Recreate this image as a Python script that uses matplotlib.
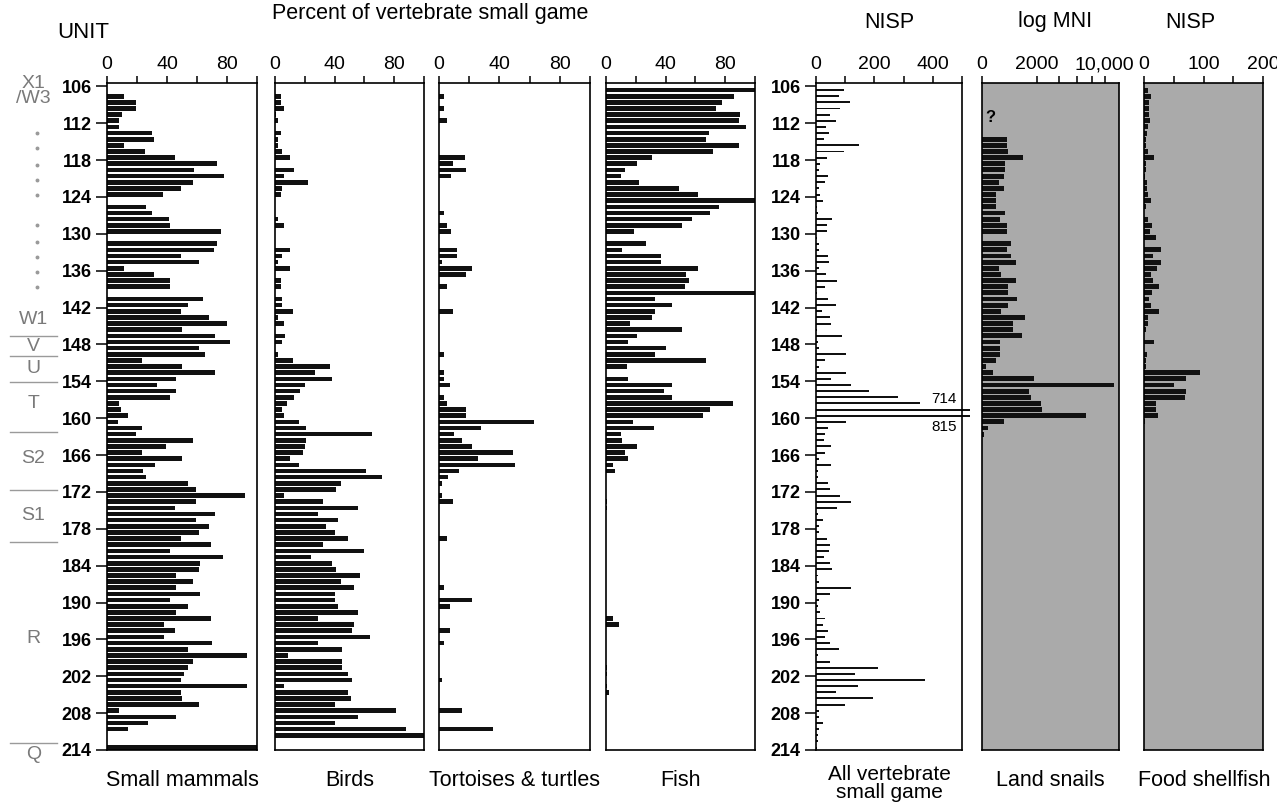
import numpy as np
import matplotlib.pyplot as plt

plt.rcParams['font.family'] = ['Liberation Sans', 'DejaVu Sans']

# depth units (one bar per unit, 106 .. 213)
depth = np.arange(106, 214)
depth_ticks = np.arange(106, 215, 6)

# percent of vertebrate small game
small_mammals = [0, 11, 19, 19, 10, 8, 8, 30, 31, 11,
                 25, 45, 73, 58, 78, 57, 49, 37, 0, 26,
                 30, 41, 42, 76, 0, 73, 71, 49, 61, 11,
                 31, 42, 42, 0, 64, 54, 49, 68, 80, 50,
                 72, 82, 61, 65, 23, 50, 72, 46, 33, 46,
                 42, 8, 9, 14, 7, 23, 19, 57, 39, 23,
                 50, 32, 24, 26, 54, 59, 92, 59, 45, 72,
                 59, 68, 61, 49, 69, 42, 77, 62, 61, 46,
                 57, 46, 62, 42, 54, 46, 69, 38, 45, 38,
                 70, 54, 93, 57, 54, 51, 49, 93, 49, 50,
                 61, 8, 46, 27, 14, 0, 0, 100]
birds = [0, 4, 4, 6, 1, 2, 0, 4, 2, 2,
         5, 10, 0, 13, 6, 22, 5, 4, 0, 0,
         0, 2, 6, 0, 0, 0, 10, 5, 2, 10,
         0, 4, 4, 0, 5, 5, 12, 2, 6, 0,
         7, 5, 0, 2, 12, 37, 27, 38, 20, 17,
         13, 8, 5, 6, 16, 21, 65, 21, 20, 19,
         10, 16, 61, 72, 44, 41, 6, 32, 56, 29,
         42, 34, 40, 49, 32, 60, 24, 38, 41, 57,
         44, 53, 40, 40, 42, 56, 29, 53, 52, 64,
         29, 45, 9, 45, 45, 49, 52, 6, 49, 51,
         40, 81, 56, 40, 88, 100, 0, 0]
tortoises = [0, 3, 0, 3, 0, 5, 0, 0, 0, 0,
             0, 17, 9, 18, 8, 0, 0, 0, 0, 0,
             3, 0, 5, 8, 0, 0, 12, 12, 2, 22,
             18, 0, 5, 0, 0, 0, 9, 0, 0, 0,
             0, 0, 0, 3, 0, 0, 3, 3, 7, 0,
             3, 5, 18, 18, 63, 28, 10, 15, 22, 49,
             26, 50, 13, 6, 2, 0, 2, 9, 0, 0,
             0, 0, 0, 5, 0, 0, 0, 0, 0, 0,
             0, 3, 0, 22, 7, 0, 0, 0, 7, 0,
             3, 0, 0, 0, 0, 0, 2, 0, 0, 0,
             0, 15, 0, 0, 36, 0, 0, 0]
fish = [100, 86, 78, 74, 90, 89, 94, 69, 67, 89,
        72, 31, 21, 13, 10, 22, 49, 62, 100, 76,
        70, 58, 51, 19, 0, 27, 11, 37, 37, 62,
        54, 56, 53, 100, 33, 44, 33, 31, 16, 51,
        21, 15, 40, 33, 67, 14, 0, 15, 44, 39,
        44, 85, 70, 65, 18, 32, 10, 11, 21, 13,
        15, 5, 6, 0, 0, 0, 0, 1, 1, 0,
        0, 0, 0, 0, 0, 0, 0, 0, 0, 0,
        0, 0, 0, 0, 0, 0, 5, 9, 0, 0,
        0, 0, 0, 0, 1, 1, 0, 1, 2, 0,
        0, 0, 0, 0, 0, 0, 0, 0]

# NISP, all vertebrate small game
nisp_all = [95, 78, 115, 83, 47, 68, 35, 46, 26, 146,
            95, 38, 15, 11, 41, 32, 9, 15, 23, 3,
            6, 55, 38, 38, 3, 11, 11, 41, 43, 9,
            35, 72, 32, 3, 41, 68, 21, 49, 53, 3,
            89, 7, 11, 104, 30, 9, 104, 53, 121, 180,
            281, 355, 714, 815, 104, 41, 32, 26, 53, 32,
            11, 53, 6, 6, 41, 47, 83, 121, 72, 6,
            23, 9, 11, 38, 47, 43, 26, 47, 55, 6,
            9, 121, 47, 11, 6, 15, 30, 23, 41, 32,
            49, 78, 6, 49, 211, 132, 374, 144, 68, 194,
            100, 9, 9, 23, 11, 6, 6, 3]

# land snails (MNI) and food shellfish (NISP)
land_snails = [0, 0, 0, 0, 0, 0, 0, 0, 411, 411,
               444, 1141, 358, 358, 309, 198, 309, 129, 129, 129,
               358, 205, 411, 411, 0, 553, 411, 553, 760, 198,
               237, 760, 444, 444, 836, 444, 237, 1234, 659, 659,
               1052, 205, 205, 205, 129, 12, 80, 1823, 11687, 1473,
               1600, 2314, 2367, 7157, 309, 24, 2, 0, 0, 0] + [0] * 48
shellfish = [7, 11, 8, 8, 8, 10, 7, 5, 4, 4,
             7, 16, 4, 4, 2, 5, 5, 7, 11, 4,
             0, 6, 13, 10, 21, 0, 29, 15, 29, 22,
             12, 15, 25, 13, 8, 11, 26, 7, 6, 4,
             0, 16, 0, 5, 4, 4, 94, 71, 50, 71,
             69, 21, 21, 24, 2, 0, 0, 0, 0, 0] + [0] * 48

# stratigraphic units at the left
unit_names = ['X1', '/W3', 'W1', 'V', 'U', 'T', 'S2', 'S1', 'R', 'Q']
unit_label_depth = [105.6, 108.0, 144.0, 148.4, 151.9, 157.6, 166.5, 175.8, 195.8, 214.8]
unit_breaks = [146.7, 149.9, 154.1, 162.3, 171.7, 180.1, 212.9]
unit_dots = [113.6, 116.0, 118.8, 121.2, 123.7, 128.5, 131.3, 133.7, 136.2, 138.6]

W, H = 1277, 806
top_px, bottom_px = 83, 750
fig = plt.figure(figsize=(W / 100, H / 100), dpi=100)


def make_ax(x0, x1):
    ax = fig.add_axes([x0 / W, 1 - bottom_px / H, (x1 - x0) / W, (bottom_px - top_px) / H])
    ax.set_ylim(214, 105.45)
    for s in ax.spines.values():
        s.set_linewidth(1.2)
    ax.xaxis.tick_top()
    ax.tick_params(axis='x', direction='out', length=5, width=1.1, labelsize=14, pad=2)
    ax.set_yticks([])
    return ax


def depth_axis(ax):
    ax.set_yticks(depth_ticks)
    ax.set_yticklabels([str(d) for d in depth_ticks], fontweight='bold')
    ax.tick_params(axis='y', direction='out', length=8, width=1.1, labelsize=13, pad=3)


bar_y = depth + 0.6
black = '#111111'
fig_y = lambda px: 1 - px / H

# percent panels
pct_panels = [((107, 257), small_mammals, 'Small mammals'),
              ((275, 424), birds, 'Birds'),
              ((439, 590), tortoises, 'Tortoises & turtles'),
              ((606, 755), fish, 'Fish')]
axes = []
for (x0, x1), vals, name in pct_panels:
    ax = make_ax(x0, x1)
    ax.barh(bar_y, vals, height=0.75, color=black)
    ax.set_xlim(0, 100)
    ax.set_xticks([0, 20, 40, 60, 80, 100])
    ax.set_xticklabels(['0', '', '40', '', '80', ''])
    fig.text((x0 + x1) / 2 / W, fig_y(780), name, ha='center', va='center', fontsize=15.5)
    axes.append(ax)
depth_axis(axes[0])

# all vertebrate small game NISP
ax5 = make_ax(816, 962)
nisp_max = 500
nisp_shown = np.minimum(nisp_all, nisp_max * 1.055)
ax5.barh(bar_y, nisp_shown, height=0.32, color=black, clip_on=False)
ax5.set_xlim(0, nisp_max)
ax5.set_xticks(np.arange(0, 501, 100))
ax5.set_xticklabels(['0', '', '200', '', '400', ''])
depth_axis(ax5)
# values that run off the axis are written beside their bars
for i, v in enumerate(nisp_all):
    if v > nisp_max:
        above = nisp_all[i + 1] > nisp_max
        ax5.text(483, bar_y[i] + (-1.8 if above else 1.9), str(v), ha='right', va='center', fontsize=11)
fig.text(889 / W, fig_y(775), 'All vertebrate', ha='center', va='center', fontsize=15)
fig.text(889 / W, fig_y(793), 'small game', ha='center', va='center', fontsize=15)

# land snails (square-root scaled axis)
gray_bg = '#aaaaaa'
ax6 = make_ax(982, 1119)
ax6.set_facecolor(gray_bg)
ax6.set_xscale('function', functions=(lambda x: np.sqrt(np.clip(x, 0, None)), lambda x: np.square(x)))
ax6.barh(bar_y, land_snails, height=0.8, color=black)
ax6.set_xlim(0, 12500)
ax6.set_xticks([0, 2000, 4000, 6000, 8000, 10000])
ax6.set_xticklabels(['0', '2000', '', '', '', '10,000'])
ax6.xaxis.set_minor_locator(plt.NullLocator())
ax6.text(0.06, 111.0, '?', transform=ax6.get_yaxis_transform(), ha='center', va='center',
         fontsize=12, fontweight='bold')
fig.text(1050 / W, fig_y(780), 'Land snails', ha='center', va='center', fontsize=15.5)

# food shellfish
ax7 = make_ax(1144, 1263)
ax7.set_facecolor(gray_bg)
ax7.barh(bar_y, shellfish, height=0.8, color=black)
ax7.set_xlim(0, 200)
ax7.set_xticks([0, 50, 100, 150, 200])
ax7.set_xticklabels(['0', '', '100', '', '200'])
fig.text(1204 / W, fig_y(780), 'Food shellfish', ha='center', va='center', fontsize=15.5)

# headers
fig.text(83 / W, fig_y(33), 'UNIT', ha='center', va='center', fontsize=16)
fig.text(430 / W, fig_y(13), 'Percent of vertebrate small game', ha='center', va='center', fontsize=15.5)
fig.text(889 / W, fig_y(22), 'NISP', ha='center', va='center', fontsize=15.5)
fig.text(1055 / W, fig_y(22), 'log MNI', ha='center', va='center', fontsize=15.5)
fig.text(1190 / W, fig_y(22), 'NISP', ha='center', va='center', fontsize=15.5)

# unit column
ax1 = axes[0]
unit_gray = '#7a7a7a'
tr = ax1.get_yaxis_transform()
for name, d in zip(unit_names, unit_label_depth):
    ax1.text(-0.49, d, name, transform=tr, ha='center', va='center', fontsize=14,
             color=unit_gray, clip_on=False)
for d in unit_breaks:
    ax1.plot([-0.647, -0.333], [d, d], transform=tr, color='#9a9a9a', lw=1.0, clip_on=False)
for d in unit_dots:
    ax1.plot([-0.465], [d], transform=tr, marker='o', ms=1.8, color='#9a9a9a', clip_on=False)

fig.savefig('out.png', dpi=100)
